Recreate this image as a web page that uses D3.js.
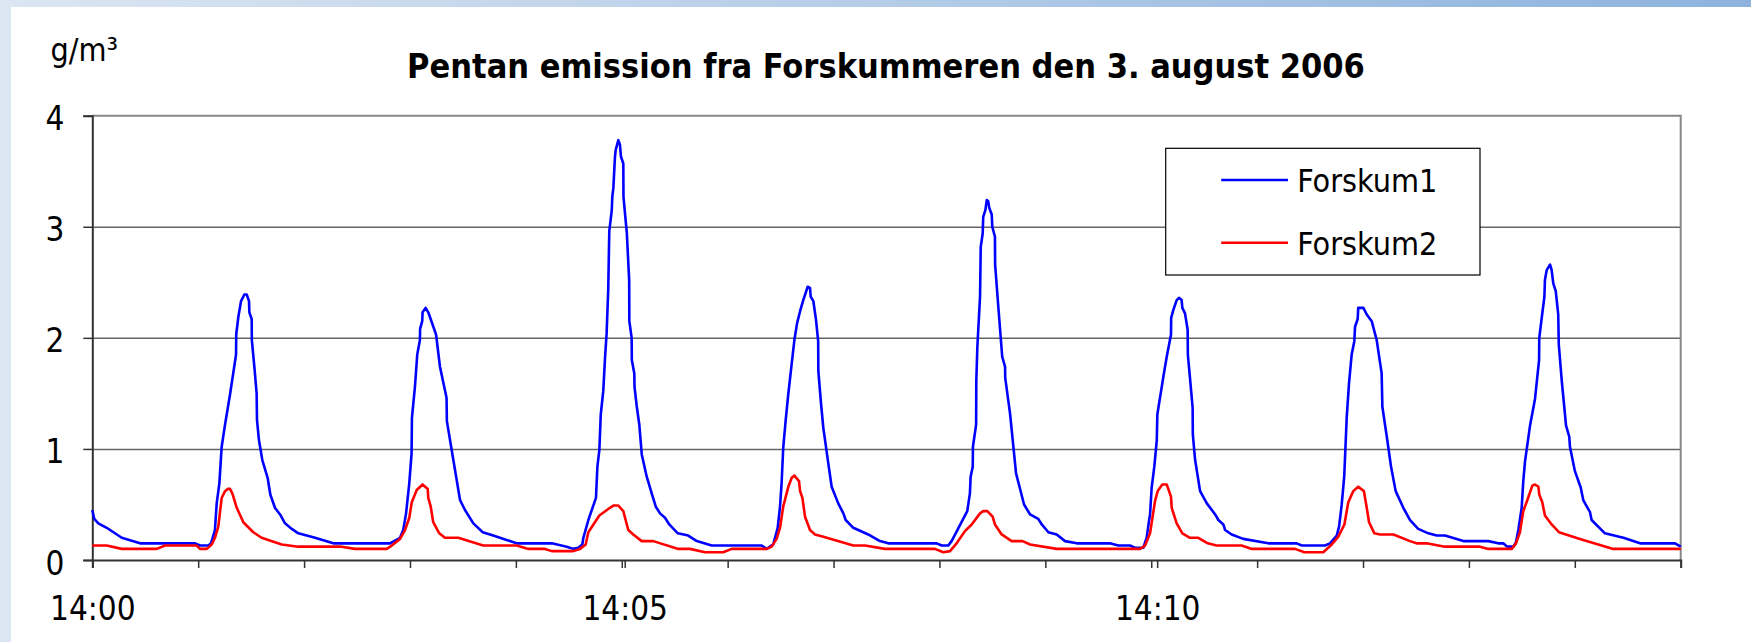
<!DOCTYPE html>
<html>
<head>
<meta charset="utf-8">
<script src="https://cdn.jsdelivr.net/npm/d3@7"></script>
<style>
  html, body { margin: 0; padding: 0; background: #fff; }
  svg { display: block; }
  text { font-family: "DejaVu Sans Condensed", "DejaVu Sans", sans-serif; fill: #000; }
</style>
</head>
<body>
<div id="chart"></div>
<script>
// seconds after 14:00 for each point, value in g/m3
const forskum1 = [
  [0,0.45],[1.1,0.37],[3.4,0.33],[8.1,0.29],[16.6,0.20],[26.9,0.15],[57.9,0.15],[60.7,0.13],[65.4,0.13],[66.9,0.15],
  [69.1,0.27],[70.1,0.51],[71.6,0.69],[72.9,1.02],[74.8,1.22],[77.6,1.49],[79.4,1.68],[81.0,1.85],[81.1,2.03],[82.3,2.19],
  [83.8,2.33],[85.7,2.39],[87.0,2.39],[88.3,2.33],[88.5,2.23],[89.8,2.17],[89.9,1.98],[91.3,1.74],[92.6,1.50],[92.8,1.26],
  [93.9,1.08],[95.8,0.90],[98.8,0.74],[100.3,0.59],[102.9,0.47],[105.8,0.41],[108.6,0.33],[112.4,0.28],[116.1,0.24],
  [125.5,0.20],[135.8,0.15],[167.7,0.15],[173.4,0.20],[175.2,0.27],[176.8,0.42],[178.6,0.69],[179.9,0.96],[180.1,1.28],
  [181.8,1.56],[183.1,1.85],[184.6,1.98],[184.7,2.08],[185.9,2.15],[186.1,2.23],[187.8,2.27],[189.3,2.23],[193.7,2.03],
  [195.9,1.74],[199.6,1.46],[199.8,1.25],[202.5,0.99],[207.2,0.54],[210.0,0.45],[214.7,0.33],[220.0,0.25],[225.9,0.22],
  [239.1,0.15],[258.9,0.15],[267.3,0.12],[271.0,0.10],[273.8,0.11],[276.1,0.14],[276.7,0.20],[279.5,0.36],[283.8,0.56],
  [284.6,0.84],[285.7,0.99],[286.5,1.31],[287.9,1.52],[288.9,1.82],[289.8,2.04],[290.7,2.43],[291.3,2.96],[292.7,3.15],
  [293.0,3.27],[293.6,3.35],[294.5,3.63],[294.9,3.69],[296.4,3.78],[297.3,3.74],[297.9,3.63],[299.2,3.57],[299.3,3.27],
  [301.2,2.94],[302.5,2.52],[302.6,2.15],[303.9,2.00],[304.0,1.80],[305.4,1.68],[305.5,1.56],[306.8,1.38],[308.2,1.22],
  [309.6,0.95],[312.4,0.75],[315.2,0.60],[317.5,0.48],[319.9,0.42],[322.7,0.38],[325.1,0.32],[329.9,0.24],[335.8,0.22],
  [340.6,0.17],[349.0,0.13],[377.2,0.13],[380.0,0.10],[383.7,0.14],[386.2,0.29],[387.5,0.48],[388.4,0.69],[389.3,1.01],
  [390.7,1.26],[392.2,1.50],[394.1,1.77],[395.6,1.98],[397.1,2.13],[398.8,2.24],[400.6,2.34],[403.1,2.46],[404.4,2.45],
  [404.8,2.37],[406.3,2.33],[407.8,2.16],[409.0,1.97],[409.1,1.70],[410.6,1.41],[411.9,1.19],[414.7,0.87],[416.6,0.66],
  [420.3,0.51],[423.2,0.42],[424.5,0.36],[428.8,0.29],[437.2,0.23],[443.8,0.17],[448.5,0.15],[475.8,0.15],[478.6,0.13],
  [482.3,0.13],[484.2,0.17],[493.0,0.44],[494.5,0.60],[494.9,0.75],[496.1,0.84],[496.2,1.02],[498.0,1.22],[498.1,1.61],
  [498.7,1.92],[500.2,2.37],[500.6,2.82],[501.7,2.94],[502.0,3.09],[503.2,3.15],[504.0,3.24],[504.8,3.23],[505.4,3.17],
  [506.8,3.11],[507.1,3.00],[508.6,2.91],[508.7,2.66],[510.5,2.28],[512.7,1.83],[514.3,1.74],[514.4,1.64],[517.1,1.32],
  [520.5,0.78],[525.0,0.50],[528.4,0.41],[533.0,0.37],[535.0,0.32],[538.7,0.25],[543.4,0.23],[548.1,0.17],[554.7,0.15],
  [573.4,0.15],[578.1,0.13],[584.7,0.13],[587.5,0.11],[592.2,0.11],[594.1,0.20],[595.4,0.35],[596.0,0.41],[596.9,0.65],
  [598.4,0.84],[599.8,1.08],[600.1,1.31],[601.6,1.46],[603.5,1.65],[605.4,1.83],[607.8,2.03],[607.9,2.18],[609.1,2.25],
  [611.0,2.34],[612.3,2.36],[613.8,2.34],[614.2,2.27],[615.7,2.22],[617.2,2.07],[617.3,1.85],[618.5,1.64],[620.0,1.37],
  [620.1,1.13],[621.4,0.90],[624.2,0.62],[628.0,0.51],[632.7,0.41],[634.5,0.36],[637.3,0.32],[638.3,0.27],[642.0,0.23],
  [648.5,0.19],[662.6,0.15],[678.6,0.15],[681.5,0.13],[694.6,0.13],[697.4,0.15],[701.2,0.22],[702.5,0.30],[704.0,0.50],
  [705.4,0.75],[706.8,1.28],[708.1,1.59],[709.6,1.85],[711.1,1.97],[711.5,2.10],[713.0,2.17],[713.3,2.27],[716.2,2.27],
  [718.1,2.21],[720.9,2.15],[723.7,1.98],[726.5,1.68],[726.9,1.38],[729.4,1.11],[731.8,0.84],[734.4,0.62],[738.7,0.47],
  [742.5,0.36],[747.1,0.28],[752.8,0.24],[757.5,0.22],[762.2,0.22],[772.5,0.17],[786.6,0.17],[792.2,0.15],[795.0,0.15],
  [797.3,0.12],[800.7,0.12],[802.2,0.16],[803.5,0.27],[805.4,0.47],[806.3,0.71],[807.3,0.89],[810.1,1.21],[812.9,1.45],
  [815.2,1.80],[815.3,2.00],[816.7,2.18],[818.2,2.37],[818.5,2.52],[819.5,2.61],[821.4,2.66],[822.3,2.61],[823.2,2.49],
  [824.6,2.42],[826.0,2.21],[826.3,1.94],[828.0,1.61],[830.4,1.21],[832.2,1.11],[832.6,1.02],[835.4,0.80],[838.7,0.65],
  [840.1,0.54],[843.9,0.43],[844.8,0.36],[852.3,0.24],[862.7,0.20],[872.1,0.15],[891.8,0.15],[895,0.12]
];

const forskum2 = [
  [0,0.13],[8.1,0.13],[16.6,0.10],[36.3,0.10],[41.0,0.13],[58.8,0.13],[60.7,0.10],[64.5,0.10],[67.3,0.14],[69.1,0.20],
  [71.0,0.30],[72.9,0.56],[74.8,0.62],[76.3,0.64],[77.6,0.64],[78.9,0.60],[81.4,0.47],[85.1,0.34],[90.7,0.25],[95.4,0.20],
  [106.7,0.14],[116.1,0.12],[140.5,0.12],[148.0,0.10],[165.9,0.10],[168.7,0.13],[173.4,0.19],[176.2,0.27],[178.6,0.38],
  [180.0,0.52],[182.8,0.63],[186.1,0.68],[189.0,0.64],[189.3,0.56],[190.7,0.48],[192.1,0.34],[195.5,0.24],[198.7,0.20],
  [206.2,0.20],[220.3,0.13],[239.1,0.13],[245.7,0.10],[255.1,0.10],[258.9,0.08],[271.0,0.08],[274.8,0.10],[278.0,0.14],
  [279.5,0.25],[285.7,0.40],[291.7,0.47],[293.6,0.49],[296.4,0.49],[299.2,0.44],[302.0,0.27],[304.8,0.23],[309.6,0.17],
  [316.1,0.17],[330.2,0.10],[336.8,0.10],[345.2,0.07],[355.5,0.07],[360.3,0.10],[380.0,0.10],[382.8,0.12],[385.6,0.19],
  [387.5,0.29],[389.3,0.48],[392.2,0.66],[394.1,0.74],[395.6,0.76],[398.2,0.71],[398.8,0.62],[400.1,0.56],[401.6,0.39],
  [404.4,0.27],[407.2,0.23],[411.9,0.21],[428.8,0.13],[435.4,0.13],[446.6,0.10],[474.8,0.10],[479.5,0.07],[483.3,0.08],
  [487.0,0.15],[491.7,0.26],[495.5,0.32],[500.2,0.42],[502.0,0.44],[504.3,0.44],[507.3,0.39],[508.6,0.32],[512.4,0.23],
  [518.0,0.17],[524.2,0.17],[528.4,0.14],[543.4,0.10],[590.4,0.10],[593.2,0.13],[596.0,0.24],[598.8,0.53],[600.3,0.62],
  [602.9,0.68],[605.4,0.68],[607.8,0.57],[608.2,0.47],[611.0,0.33],[614.2,0.24],[618.5,0.20],[623.2,0.20],[628.5,0.15],
  [633.5,0.13],[647.6,0.13],[653.3,0.10],[677.7,0.10],[682.9,0.07],[693.6,0.07],[698.4,0.14],[702.1,0.21],[705.5,0.32],
  [707.7,0.52],[710.5,0.62],[713.3,0.66],[716.5,0.62],[718.1,0.47],[719.4,0.34],[722.4,0.24],[725.6,0.23],[733.1,0.23],
  [742.5,0.17],[746.2,0.15],[751.8,0.15],[762.2,0.12],[781.9,0.12],[786.6,0.10],[799.8,0.10],[802.2,0.15],[804.4,0.25],
  [806.3,0.44],[808.6,0.54],[811.4,0.67],[812.9,0.68],[814.8,0.66],[815.3,0.59],[817.0,0.52],[818.5,0.40],[822.3,0.32],
  [826.4,0.25],[838.2,0.19],[857.0,0.10],[895,0.10]
];

const seriesNames = ['Forskum1', 'Forskum2'];
const seriesColors = ['#0000ff', '#ff0000'];
const yTicks = [0, 1, 2, 3, 4];
const xLabelSeconds = [0, 300, 600];
const xLabels = ['14:00', '14:05', '14:10'];
const xEnd = 895;      // last sample, seconds after 14:00
const xTickCount = 15; // tick marks along the category axis

const width = 1751, height = 642;
const plot = {left: 92.3, right: 1680.7, top: 115.7, bottom: 560};
const font = '"DejaVu Sans Condensed", "DejaVu Sans", sans-serif';

const svg = d3.select('#chart').append('svg')
    .attr('width', width)
    .attr('height', height);

// slide background: light strip left, gradient strip on top
const defs = svg.append('defs');
const grad = defs.append('linearGradient').attr('id', 'topband');
grad.append('stop').attr('offset', '0%').attr('stop-color', '#dce6f2');
grad.append('stop').attr('offset', '100%').attr('stop-color', '#8db3dd');
svg.append('rect').attr('width', width).attr('height', height).attr('fill', '#fff');
svg.append('rect').attr('x', 0).attr('y', 0).attr('width', 11).attr('height', height).attr('fill', '#dce6f2');
svg.append('rect').attr('x', 0).attr('y', 0).attr('width', width).attr('height', 7).attr('fill', 'url(#topband)');

const x = d3.scaleLinear().domain([0, xEnd]).range([plot.left, plot.right]);
const y = d3.scaleLinear().domain([0, 4]).range([plot.bottom, plot.top]);

// gridlines
svg.append('g')
    .attr('transform', 'translate(' + plot.left + ',0)')
    .call(d3.axisLeft(y).tickValues([1, 2, 3]).tickSize(-(plot.right - plot.left)).tickFormat(''))
    .call(g => g.select('.domain').remove())
    .selectAll('line')
      .attr('stroke', '#666')
      .attr('stroke-width', 1.5);

// plot frame, top and right
svg.append('path')
    .attr('d', 'M' + plot.left + ',' + plot.top + 'H' + plot.right + 'V' + plot.bottom)
    .attr('fill', 'none')
    .attr('stroke', '#888')
    .attr('stroke-width', 2);

// y axis
const yAxis = svg.append('g')
    .attr('transform', 'translate(' + plot.left + ',0)')
    .call(d3.axisLeft(y).tickValues(yTicks).tickSize(9).tickPadding(19).tickFormat(d3.format('d')));
yAxis.select('.domain').attr('stroke', '#333').attr('stroke-width', 2);
yAxis.selectAll('line').attr('stroke', '#333').attr('stroke-width', 1.5);
yAxis.selectAll('text')
    .attr('dy', 14)
    .style('font-size', '33px')
    .style('font-family', font);

// x axis: tick marks
const xTicks = d3.range(xTickCount + 1).map(i => i * xEnd / xTickCount);
const xAxis = svg.append('g')
    .attr('transform', 'translate(0,' + plot.bottom + ')')
    .call(d3.axisBottom(x).tickValues(xTicks).tickSize(8).tickFormat(''));
xAxis.select('.domain').attr('stroke', '#333').attr('stroke-width', 2);
xAxis.selectAll('line').attr('stroke', '#333').attr('stroke-width', 1.5);

// x axis: time labels
const xLab = svg.append('g')
    .attr('transform', 'translate(0,' + plot.bottom + ')')
    .call(d3.axisBottom(x).tickValues(xLabelSeconds).tickSize(8)
      .tickFormat((d, i) => xLabels[i]));
xLab.select('.domain').remove();
xLab.selectAll('line').attr('stroke', '#333').attr('stroke-width', 1.5);
xLab.selectAll('text')
    .attr('y', 60)
    .attr('dy', 0)
    .style('font-size', '33px')
    .style('font-family', font);

// series
const line = d3.line()
    .x(d => x(d[0]))
    .y(d => y(d[1]));

[forskum1, forskum2].forEach((data, i) => {
  svg.append('path')
      .datum(data)
      .attr('fill', 'none')
      .attr('stroke', seriesColors[i])
      .attr('stroke-width', 2.6)
      .attr('stroke-linejoin', 'round')
      .attr('d', line);
});

// unit and title
svg.append('text')
    .attr('x', 50.5)
    .attr('y', 61)
    .style('font-size', '32px')
    .text('g/m³');

svg.append('text')
    .attr('x', 886)
    .attr('y', 78)
    .attr('text-anchor', 'middle')
    .style('font-size', '34px')
    .style('font-weight', 'bold')
    .text('Pentan emission fra Forskummeren den 3. august 2006');

// legend
const legend = svg.append('g').attr('transform', 'translate(1165.7,148.3)');
legend.append('rect')
    .attr('width', 314.3)
    .attr('height', 126.7)
    .attr('fill', '#fff')
    .attr('stroke', '#000')
    .attr('stroke-width', 1.2);

const item = legend.selectAll('.item')
    .data(seriesNames)
  .enter().append('g')
    .attr('class', 'item')
    .attr('transform', (d, i) => 'translate(0,' + (31.7 + i * 62.7) + ')');
item.append('line')
    .attr('x1', 55.5).attr('x2', 122.3)
    .attr('stroke', (d, i) => seriesColors[i])
    .attr('stroke-width', 2.6);
item.append('text')
    .attr('x', 131.5)
    .attr('y', 12)
    .style('font-size', '32px')
    .text(d => d);
</script>
</body>
</html>
